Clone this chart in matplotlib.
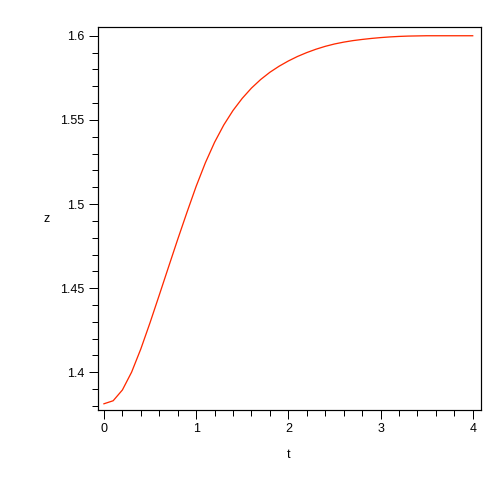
import numpy as np
import matplotlib
matplotlib.use("Agg")
import matplotlib.pyplot as plt
from matplotlib.ticker import MultipleLocator

plt.rcParams['font.family'] = ['Liberation Sans', 'DejaVu Sans']

# values
t = [0.0, 0.1, 0.2, 0.3, 0.4, 0.5, 0.6, 0.7, 0.8, 0.9,
     1.0, 1.1, 1.2, 1.3, 1.4, 1.5, 1.6, 1.7, 1.8, 1.9,
     2.0, 2.1, 2.2, 2.3, 2.4, 2.5, 2.6, 2.7, 2.8, 2.9,
     3.0, 3.1, 3.2, 3.3, 3.4, 3.5, 3.6, 3.7, 3.8, 3.9, 4.0]
z = [1.3813, 1.3831, 1.3895, 1.4001, 1.4139, 1.4295, 1.4459, 1.4625, 1.4790, 1.4950,
     1.5105, 1.5245, 1.5367, 1.5470, 1.5556, 1.5628, 1.5689, 1.5740, 1.5783, 1.5819,
     1.5850, 1.5877, 1.5900, 1.5920, 1.5937, 1.5951, 1.5962, 1.5971, 1.5978, 1.5984,
     1.5989, 1.5993, 1.5996, 1.5998, 1.5999, 1.6000, 1.6000, 1.6000, 1.6000, 1.6000, 1.6000]

fig = plt.figure(figsize=(7, 7), dpi=72)
ax = fig.add_axes([97.5 / 504, 94 / 504, 383.5 / 504, 383 / 504])

ax.plot(t, z, color='#ff2a00', lw=1.3)

ax.set_xlim(-0.07, 4.09)
ax.set_ylim(1.3776, 1.6052)
ax.xaxis.set_major_locator(MultipleLocator(1))
ax.xaxis.set_minor_locator(MultipleLocator(0.2))
ax.yaxis.set_major_locator(MultipleLocator(0.05))
ax.yaxis.set_minor_locator(MultipleLocator(0.01))
ax.xaxis.set_major_formatter(plt.FuncFormatter(lambda v, p: f"{v:g}"))
ax.yaxis.set_major_formatter(plt.FuncFormatter(lambda v, p: f"{v:g}"))

ax.tick_params(which='major', length=9, width=1, direction='out', labelsize=12.5, pad=4)
ax.tick_params(which='minor', length=6, width=1, direction='out')
for s in ax.spines.values():
    s.set_linewidth(1.2)

ax.set_xlabel('t', fontsize=12.5)
ax.set_ylabel('z', fontsize=12.5, rotation=0)
ax.xaxis.label.set_va('center')
ax.yaxis.label.set_va('center')
ax.yaxis.label.set_ha('center')
ax.xaxis.set_label_coords(0.497, -0.1175)
ax.yaxis.set_label_coords(-0.132, 0.50)

fig.savefig('out.png', dpi=72)
